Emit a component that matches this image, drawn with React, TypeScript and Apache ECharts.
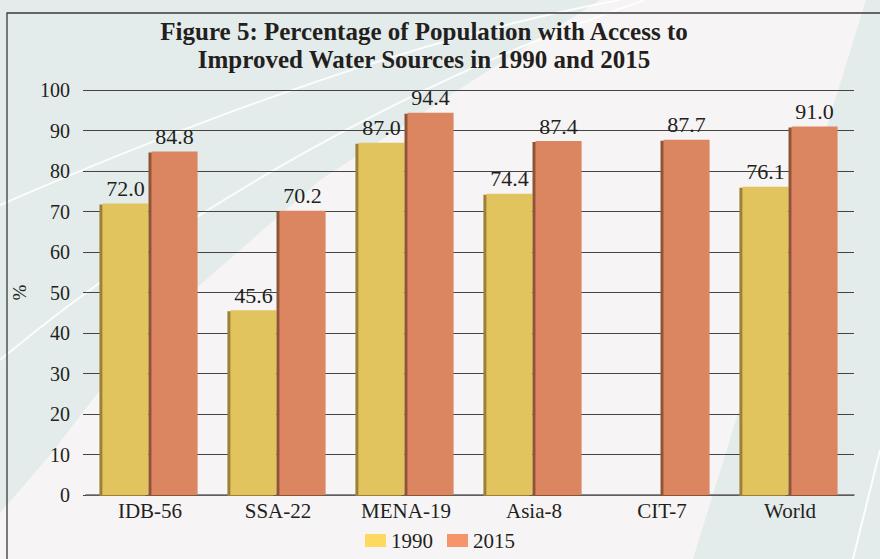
import React, { useEffect, useRef } from "react";
import * as echarts from "echarts";

const categories = ["IDB-56", "SSA-22", "MENA-19", "Asia-8", "CIT-7", "World"];
const values1990 = [72.0, 45.6, 87.0, 74.4, null, 76.1];
const values2015 = [84.8, 70.2, 94.4, 87.4, 87.7, 91.0];
const seriesNames = ["1990", "2015"];
const titleText =
  "Figure 5: Percentage of Population with Access to\nImproved Water Sources in 1990 and 2015";
const yAxisName = "%";

const SERIF = "'Liberation Serif', 'Times New Roman', serif";
const INK = "#231F20";

export default function App() {
  const ref = useRef<HTMLDivElement>(null);

  useEffect(() => {
    if (!ref.current) return;
    const chart = echarts.init(ref.current, null, { renderer: "svg" });

    const labelCfg = {
      show: true,
      position: "top",
      distance: 4,
      fontFamily: SERIF,
      fontSize: 22,
      color: INK,
      formatter: (p: any) => (p.value == null ? "" : Number(p.value).toFixed(1)),
    };

    const option: any = {
      animation: false,
      backgroundColor: "#E3ECEA",
      textStyle: { fontFamily: SERIF },
      graphic: [
        {
          type: "polygon",
          z: -10,
          silent: true,
          shape: {
            points: [
              [0, 513],
              [50, 455],
              [100, 390],
              [200, 285],
              [320, 180],
              [450, 95],
              [600, 0],
              [866, 0],
              [693, 559],
              [0, 559],
            ],
          },
          style: { fill: "#F6F4F5" },
        },
        {
          type: "bezierCurve",
          z: -9,
          silent: true,
          shape: { x1: 0, y1: 205, cpx1: 150, cpy1: 140, cpx2: 400, cpy2: 40, x2: 620, y2: 0 },
          style: { stroke: "rgba(255,255,255,0.85)", lineWidth: 2, fill: "none" },
        },
        {
          type: "bezierCurve",
          z: -9,
          silent: true,
          shape: { x1: 0, y1: 360, cpx1: 150, cpy1: 235, cpx2: 380, cpy2: 90, x2: 645, y2: 0 },
          style: { stroke: "rgba(255,255,255,0.85)", lineWidth: 2, fill: "none" },
        },
        {
          type: "line",
          z: -9,
          silent: true,
          shape: { x1: 853, y1: 559, x2: 880, y2: 450 },
          style: { stroke: "rgba(255,255,255,0.9)", lineWidth: 2 },
        },
        {
          type: "polyline",
          z: 10,
          silent: true,
          shape: { points: [[7, 559], [7, 13], [880, 13]] },
          style: { stroke: "#3a3a3a", lineWidth: 1.3, fill: "none" },
        },
        {
          type: "text",
          z: 10,
          silent: true,
          style: {
            text: titleText,
            x: 424,
            y: 17,
            textAlign: "center",
            textVerticalAlign: "top",
            font: `bold 25px ${SERIF}`,
            lineHeight: 28,
            fill: INK,
          },
        },
      ],
      grid: { left: 86, right: 26, top: 90, bottom: 64 },
      legend: {
        data: [
          { name: seriesNames[0], itemStyle: { color: "#FDD962", shadowColor: "transparent", shadowOffsetX: 0, shadowOffsetY: 0 } },
          { name: seriesNames[1], itemStyle: { color: "#F4966A", shadowColor: "transparent", shadowOffsetX: 0, shadowOffsetY: 0 } },
        ],
        left: "center",
        top: 525,
        icon: "rect",
        itemWidth: 21,
        itemHeight: 13,
        itemGap: 14,
        textStyle: { fontFamily: SERIF, fontSize: 21, color: INK },
      },
      xAxis: {
        type: "category",
        data: categories,
        axisLine: { show: true, lineStyle: { color: "#666", width: 1.5 } },
        axisTick: { show: false },
        axisLabel: { fontFamily: SERIF, fontSize: 21, color: INK, margin: 5 },
      },
      yAxis: {
        type: "value",
        min: 0,
        max: 100,
        interval: 10,
        name: yAxisName,
        nameLocation: "middle",
        nameGap: 52,
        nameTextStyle: { fontFamily: SERIF, fontSize: 19, color: INK },
        axisLine: { show: false },
        axisTick: { show: true, length: 3, lineStyle: { color: "#444" } },
        axisLabel: { fontFamily: SERIF, fontSize: 20, color: INK, margin: 16 },
        splitLine: { show: true, lineStyle: { color: "#444", width: 1.2 } },
      },
      series: [
        {
          name: seriesNames[0],
          type: "bar",
          data: values1990,
          barWidth: "36%",
          barGap: "6.5%",
          itemStyle: {
            color: "#E2C45E",
            shadowColor: "#9C8035",
            shadowOffsetX: -3,
            shadowOffsetY: 1,
            shadowBlur: 0,
          },
          label: labelCfg,
        },
        {
          name: seriesNames[1],
          type: "bar",
          data: values2015,
          barWidth: "36%",
          barGap: "6.5%",
          itemStyle: {
            color: "#DB8660",
            shadowColor: "#8F5236",
            shadowOffsetX: -3,
            shadowOffsetY: 1,
            shadowBlur: 0,
          },
          label: labelCfg,
        },
      ],
    };

    chart.setOption(option);
    return () => chart.dispose();
  }, []);

  return (
    <div
      ref={ref}
      style={{ position: "fixed", left: 0, top: 0, width: 880, height: 559 }}
    />
  );
}
